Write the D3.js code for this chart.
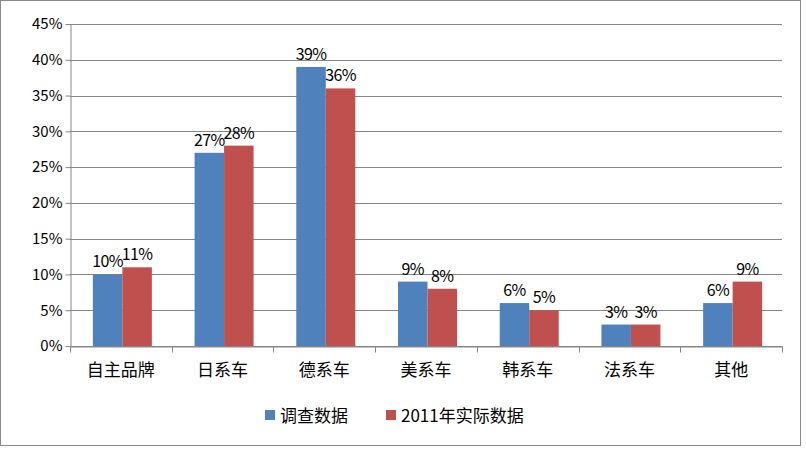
<!DOCTYPE html>
<html><head><meta charset="utf-8">
<script src="https://cdn.jsdelivr.net/npm/d3@7"></script>
<style>body{margin:0;background:#fff}svg{display:block}text{font-family:"Noto Sans CJK SC","DejaVu Sans",sans-serif;fill:#000}</style>
</head><body><svg id="c" width="806" height="451"></svg>
<script>
const categories=["自主品牌","日系车","德系车","美系车","韩系车","法系车","其他"];
const survey=[10,27,39,9,6,3,6];
const actual=[11,28,36,8,5,3,9];
const seriesNames=["调查数据","2011年实际数据"];
const yTicks=[0,5,10,15,20,25,30,35,40,45];
const colors=["#4F81BD","#C0504D"];
const svg=d3.select("#c");
svg.append("rect").attr("x",0.5).attr("y",0.5).attr("width",800).attr("height",445).attr("fill","#fff").attr("stroke","#888");
const L=70,R=782,T=24,B=346;
const x=d3.scaleBand().domain(categories).range([L,R]);
const y=d3.scaleLinear().domain([0,45]).range([B,T]);
const g=svg.append("g");
g.selectAll(".gl").data(yTicks).join("line").attr("x1",L).attr("x2",R).attr("y1",d=>Math.round(y(d))+0.5).attr("y2",d=>Math.round(y(d))+0.5).attr("stroke","#868686");
const ya=svg.append("g").attr("transform",`translate(${L+0.5},0)`).call(d3.axisLeft(y).tickValues(yTicks).tickFormat(d=>d+"%").tickSize(5).tickSizeOuter(0));
ya.selectAll("text").style("font-size","15px").attr("x",-8);
ya.selectAll("line,path").attr("stroke","#868686");
const xa=svg.append("g").attr("transform",`translate(0,${B+0.5})`).call(d3.axisBottom(x).tickSize(0).tickSizeOuter(0));
xa.select("path").attr("stroke","#868686");
xa.selectAll("text").style("font-size","17px").attr("dy","1.55em");
xa.selectAll(".bt").data(d3.range(categories.length+1)).join("line").attr("x1",i=>Math.round(L+i*x.step())+0.5).attr("x2",i=>Math.round(L+i*x.step())+0.5).attr("y1",0).attr("y2",6).attr("stroke","#868686");
const bw=29.5;
[survey,actual].forEach((arr,s)=>{
  const gx=c=>x(c)+x.bandwidth()/2-bw+s*bw+1.5;
  g.selectAll(".b"+s).data(arr).join("rect").attr("x",(d,i)=>gx(categories[i])).attr("width",bw).attr("y",d=>y(d)).attr("height",d=>B-y(d)).attr("fill",colors[s]);
  g.selectAll(".t"+s).data(arr).join("text").attr("x",(d,i)=>gx(categories[i])+bw/2).attr("y",d=>y(d)-7).attr("text-anchor","middle").style("font-size","16px").style("letter-spacing","-0.6px").text(d=>d+"%");
});
const lg=svg.append("g");
[[265,seriesNames[0]],[386,seriesNames[1]]].forEach(([lx,t],i)=>{
  lg.append("rect").attr("x",lx).attr("y",410).attr("width",10).attr("height",10).attr("fill",colors[i]);
  lg.append("text").attr("x",lx+15).attr("y",422).style("font-size","17px").text(t);
});
</script></body></html>
